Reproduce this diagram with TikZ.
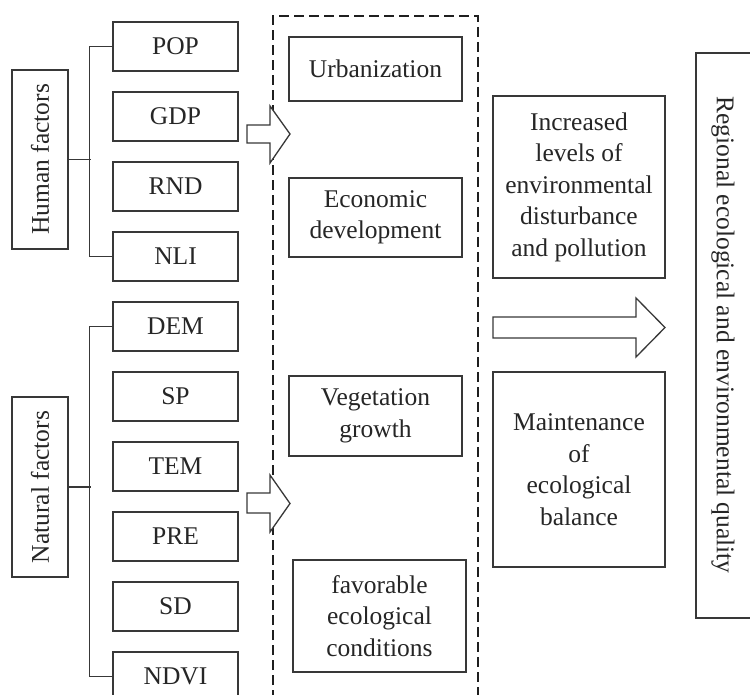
\documentclass[tikz,border=0pt]{standalone}
\usepackage{fontspec}
\setmainfont{Liberation Serif}
\begin{document}
\begin{tikzpicture}[x=1pt,y=-1pt,
  line/.style={draw=black!78, line width=1.5pt},
  box/.style={line, rectangle, inner sep=0pt, align=center, font=\fontsize{25.5}{31.5}\selectfont, text=black!85},
  fbox/.style={box, minimum width=125pt, minimum height=49pt},
  mbox/.style={box, minimum width=173pt},
  rbox/.style={box, minimum width=172pt},
  sidebox/.style={box, rotate=90, minimum width=179pt, minimum height=56pt},
  blockarrow/.style={line, line width=1.3pt, fill=white, line join=miter},
  dashbox/.style={draw=black!88, line width=2.6pt, dash pattern=on 10pt off 5pt}
]
\clip (0,0) rectangle (750,695);
\fill[white] (0,0) rectangle (750,695);

% dashed container
\draw[dashbox] (273,700) -- (273,16) -- (478,16) -- (478,700);

% factor boxes
\node[fbox] (pop)  at (175.5,46.5)  {POP};
\node[fbox] (gdp)  at (175.5,116.5) {GDP};
\node[fbox] (rnd)  at (175.5,186.5) {RND};
\node[fbox] (nli)  at (175.5,256.5) {NLI};
\node[fbox] (dem)  at (175.5,326.5) {DEM};
\node[fbox] (sp)   at (175.5,396.5) {SP};
\node[fbox] (tem)  at (175.5,466.5) {TEM};
\node[fbox] (pre)  at (175.5,536.5) {PRE};
\node[fbox] (sd)   at (175.5,606.5) {SD};
\node[fbox] (ndvi) at (175.5,676.5) {NDVI};

% side boxes
\node[sidebox] (hf) at (40,159.5) {Human factors};
\node[sidebox, minimum width=180pt] (nf) at (40,487) {Natural factors};

% brackets
\draw[line] (pop.west) -- ++(-23,0) |- (nli.west);
\draw[line] (hf.south) -- ++(22,0);
\draw[line] (dem.west) -- ++(-23,0) |- (ndvi.west);
\draw[line] (nf.south) -- ++(22,0);

% middle boxes
\node[mbox, minimum height=64pt] (urb) at (375.5,69) {Urbanization};
\node[mbox, minimum height=79pt] (eco) at (375.5,217.5) {Economic\\development};
\node[mbox, minimum height=80pt] (veg) at (375.5,416) {Vegetation\\growth};
\node[mbox, minimum height=112pt] (fav) at (379.5,616) {favorable\\ecological\\conditions};

% right boxes
\node[rbox, minimum height=182pt] (inc) at (579,187) {Increased\\levels of\\environmental\\disturbance\\and pollution};
\node[rbox, minimum height=195pt] (mai) at (579,469.5) {Maintenance\\of\\ecological\\balance};

% regional box
\draw[line] (752,53) -- (696,53) -- (696,618) -- (752,618);
\node[font=\fontsize{25.5}{31.5}\selectfont, text=black!85, rotate=-90, inner sep=0pt] (reg) at (723,335) {Regional ecological and environmental quality};

% block arrows
\draw[blockarrow] (247,125) -- (270,125) -- (270,106) -- (290,134) -- (270,163) -- (270,143) -- (247,143) -- cycle;
\draw[blockarrow] (247,493) -- (270,493) -- (270,475) -- (290,503.5) -- (270,532) -- (270,513) -- (247,513) -- cycle;
\draw[blockarrow] (493,317) -- (636,317) -- (636,298) -- (665,327.5) -- (636,357) -- (636,338) -- (493,338) -- cycle;
\end{tikzpicture}
\end{document}
